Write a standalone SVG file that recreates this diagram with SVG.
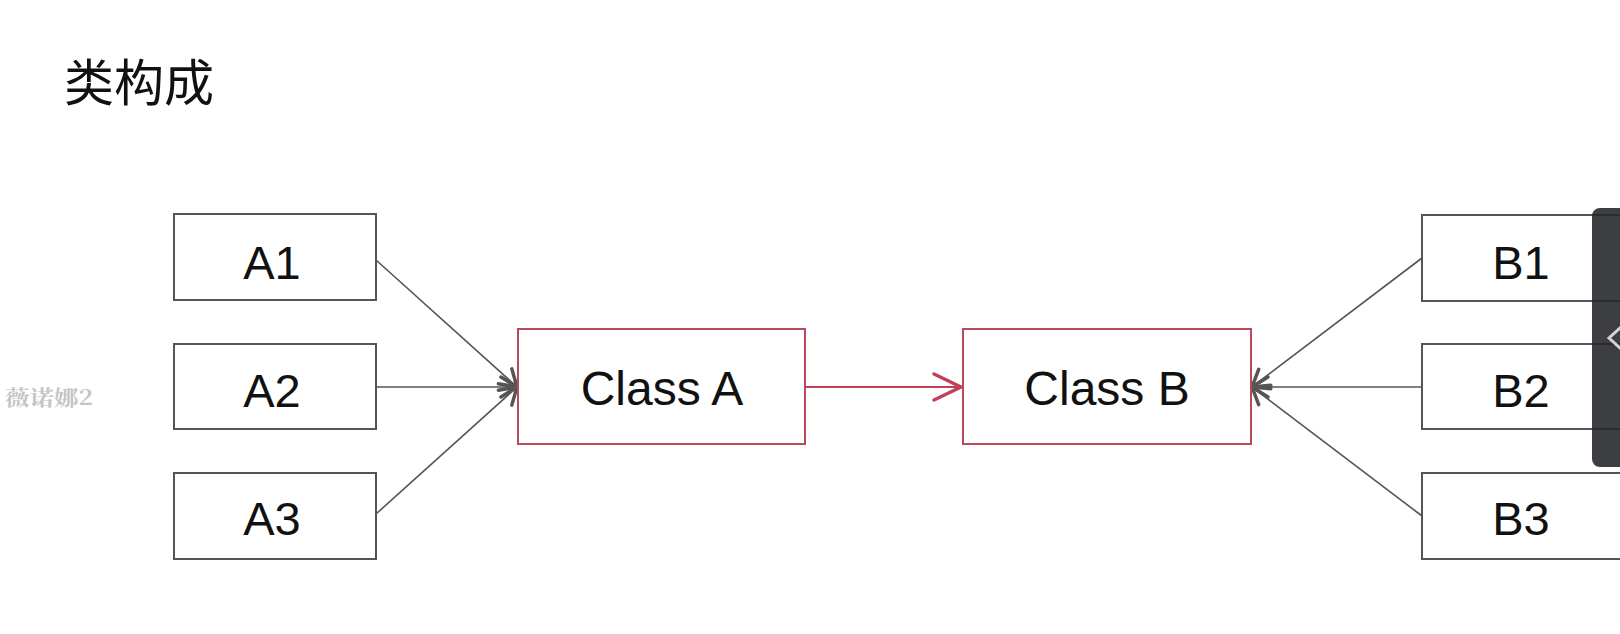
<svg xmlns="http://www.w3.org/2000/svg" width="1620" height="634" viewBox="0 0 1620 634">
<style>
.box{fill:#fff;stroke:#555;stroke-width:2}
.cls{fill:#fff;stroke:#b94a5e;stroke-width:2}
.lbl{font-family:"Liberation Sans",Arial,sans-serif;font-size:47px;fill:#111;text-anchor:middle}
.clbl{font-family:"Liberation Sans",Arial,sans-serif;font-size:48px;fill:#111;text-anchor:middle}
.con{stroke:#555;stroke-width:1.6;fill:none}
</style>
<defs>
<marker id="ag" markerUnits="userSpaceOnUse" markerWidth="34" markerHeight="34" viewBox="-24 -17 34 34" refX="0" refY="0" orient="auto">
<path d="M-16,-10 L0,0 L-16,10" fill="none" stroke="#555" stroke-width="3.5" stroke-linecap="round" stroke-linejoin="round"/>
</marker>
<marker id="ar" markerUnits="userSpaceOnUse" markerWidth="40" markerHeight="40" viewBox="-32 -20 40 40" refX="0" refY="0" orient="auto">
<path d="M-27,-13 L0,0 L-27,13" fill="none" stroke="#c0405a" stroke-width="3.5" stroke-linecap="round" stroke-linejoin="round"/>
</marker>
</defs>
<rect width="1620" height="634" fill="#fff"/>
<text x="64" y="101" font-family="'Noto Sans CJK SC',sans-serif" font-size="50" fill="#111">类构成</text>
<text x="5" y="405" font-family="'Noto Serif CJK SC','Noto Sans CJK SC',serif" font-weight="bold" font-size="21" fill="#c4c4c4" textLength="88" lengthAdjust="spacingAndGlyphs">薇诺娜2</text>
<g id="connectors">
<line class="con" x1="376" y1="260" x2="517" y2="387" marker-end="url(#ag)"/>
<line class="con" x1="376" y1="387" x2="517" y2="387" marker-end="url(#ag)"/>
<line class="con" x1="376" y1="514" x2="517" y2="387" marker-end="url(#ag)"/>
<line class="con" x1="1422" y1="258" x2="1252" y2="387" marker-end="url(#ag)"/>
<line class="con" x1="1422" y1="387" x2="1252" y2="387" marker-end="url(#ag)"/>
<line class="con" x1="1422" y1="516" x2="1252" y2="387" marker-end="url(#ag)"/>
<line x1="805" y1="387" x2="961" y2="387" stroke="#c0405a" stroke-width="2" marker-end="url(#ar)"/>
</g>
<g id="A1"><rect class="box" x="174" y="214" width="202" height="86"/><text class="lbl" x="272" y="279">A1</text></g>
<g id="A2"><rect class="box" x="174" y="344" width="202" height="85"/><text class="lbl" x="272" y="407">A2</text></g>
<g id="A3"><rect class="box" x="174" y="473" width="202" height="86"/><text class="lbl" x="272" y="535">A3</text></g>
<g id="ClassA"><rect class="cls" x="518" y="329" width="287" height="115"/><text class="clbl" x="662" y="405">Class A</text></g>
<g id="ClassB"><rect class="cls" x="963" y="329" width="288" height="115"/><text class="clbl" x="1107" y="405">Class B</text></g>
<g id="B1"><rect class="box" x="1422" y="215" width="210" height="86"/><text class="lbl" x="1521" y="279">B1</text></g>
<g id="B2"><rect class="box" x="1422" y="344" width="210" height="85"/><text class="lbl" x="1521" y="407">B2</text></g>
<g id="B3"><rect class="box" x="1422" y="473" width="210" height="86"/><text class="lbl" x="1521" y="535">B3</text></g>
<g id="overlay">
<rect x="1592" y="208" width="60" height="259" rx="8" fill="#25262a" fill-opacity="0.89"/>
<polyline points="1621,327 1609,338 1621,349" fill="none" stroke="#d4d4d4" stroke-width="3"/>
</g>
</svg>
